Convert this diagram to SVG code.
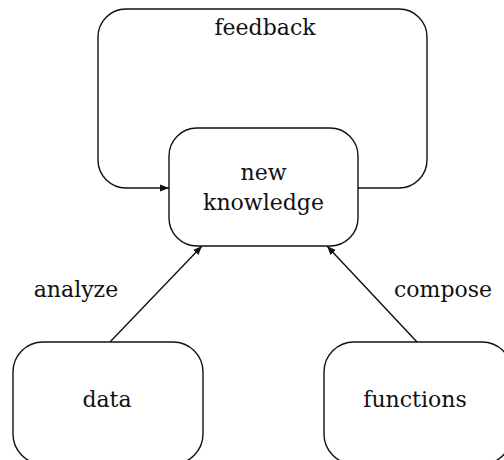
<svg xmlns="http://www.w3.org/2000/svg" width="504" height="460" viewBox="0 0 504 460">
<defs>
<marker id="ah" viewBox="0 0 10 10" refX="10" refY="5" markerWidth="9" markerHeight="9" markerUnits="userSpaceOnUse" orient="auto">
<path d="M0,1 L10,5 L0,9 Z" fill="#111"/>
</marker>
</defs>
<style>
.box{fill:#fff;stroke:#111;stroke-width:1.4}
.lbl{font-family:'DejaVu Serif','Liberation Serif',serif;font-size:22px;fill:#111;text-anchor:middle}
.edge{fill:none;stroke:#111;stroke-width:1.4}
</style>
<rect width="504" height="460" fill="#fff"/>
<g id="connectors">
<path class="edge" d="M358,188 H399 A28,28 0 0 0 427,160 V37 A28,28 0 0 0 399,9 H126 A28,28 0 0 0 98,37 V160 A28,28 0 0 0 126,188 H169" marker-end="url(#ah)"/>
<line class="edge" x1="110" y1="342" x2="202" y2="246" marker-end="url(#ah)"/>
<line class="edge" x1="417" y1="342" x2="327" y2="246" marker-end="url(#ah)"/>
<text class="lbl" x="265" y="35">feedback</text>
<text class="lbl" x="76" y="297">analyze</text>
<text class="lbl" x="443" y="297">compose</text>
</g>
<g id="node-new-knowledge">
<rect class="box" x="169" y="128" width="189" height="118" rx="28" ry="28"/>
<text class="lbl" x="263.5" y="180">new</text>
<text class="lbl" x="263.5" y="210">knowledge</text>
</g>
<g id="node-data">
<rect class="box" x="13" y="342" width="190" height="122" rx="30" ry="30"/>
<text class="lbl" x="107" y="407">data</text>
</g>
<g id="node-functions">
<rect class="box" x="324" y="342" width="188" height="122" rx="30" ry="30"/>
<text class="lbl" x="415" y="407">functions</text>
</g>
</svg>
